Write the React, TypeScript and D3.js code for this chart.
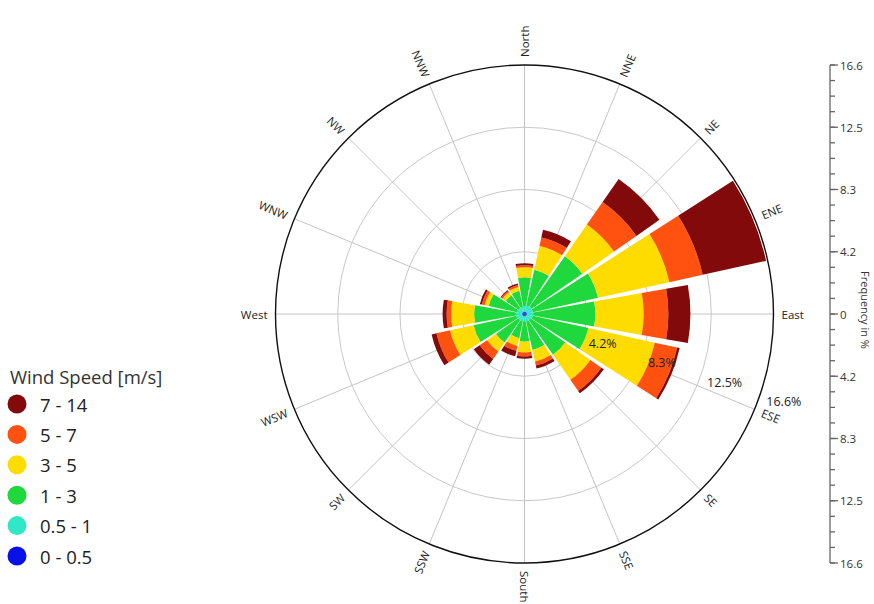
import React from "react";
import * as d3 from "d3";

const directions = ["North", "NNE", "NE", "ENE", "East", "ESE", "SE", "SSE", "South", "SSW", "SW", "WSW", "West", "WNW", "NW", "NNW"];
const directionAngles = [0, 22.5, 45, 67.5, 90, 112.5, 135, 157.5, 180, 202.5, 225, 247.5, 270, 292.5, 315, 337.5];

const speedBins = ["0 - 0.5", "0.5 - 1", "1 - 3", "3 - 5", "5 - 7", "7 - 14"];
const binColors = ["#0a10e8", "#30e8c8", "#1fd83e", "#ffdc00", "#ff5210", "#820a0a"];

// Frequency (%) per direction, per speed bin
const s0_05 = [0.15, 0.16, 0.16, 0.16, 0.16, 0.16, 0.15, 0.15, 0.15, 0.15, 0.15, 0.15, 0.16, 0.15, 0.15, 0.15];
const s05_1 = [0.38, 0.42, 0.44, 0.42, 0.42, 0.42, 0.38, 0.36, 0.34, 0.36, 0.38, 0.42, 0.42, 0.38, 0.34, 0.34];
const s1_3 = [1.92, 2.44, 4.1, 4.44, 4.14, 3.78, 2.79, 1.94, 1.36, 1.14, 1.79, 2.91, 2.78, 1.92, 1.03, 1.09];
const s3_5 = [0.67, 1.63, 2.57, 4.87, 3.22, 4.53, 2.03, 0.8, 0.71, 0.53, 0.73, 1.6, 1.53, 0.27, 0.27, 0.27];
const s5_7 = [0.13, 0.57, 1.83, 2.27, 1.65, 1.53, 0.9, 0.27, 0.27, 0.33, 0.6, 0.93, 0.3, 0.2, 0.1, 0.13];
const s7_14 = [0.13, 0.53, 1.87, 4.33, 1.47, 0.17, 0.2, 0.2, 0.15, 0.37, 0.47, 0.33, 0.27, 0.13, 0.07, 0.1];

const ringValues = [4.15, 8.3, 12.45, 16.6];
const ringLabels = ["4.2%", "8.3%", "12.5%", "16.6%"];
const axisTickValues = [-16.6, -12.45, -8.3, -4.15, 0, 4.15, 8.3, 12.45, 16.6];
const axisTickLabels = ["16.6", "12.5", "8.3", "4.2", "0", "4.2", "8.3", "12.5", "16.6"];

const series = [s0_05, s05_1, s1_3, s3_5, s5_7, s7_14];

const W = 874;
const H = 604;
const cx = 524.5;
const cy = 314;
const R = 249;
const maxVal = 16.6;
const halfWedge = (10.1 * Math.PI) / 180;
const halfFull = (11.25 * Math.PI) / 180;
const labelAngle = 108;
const font = "'Open Sans', 'DejaVu Sans', sans-serif";

export default function App() {
  const r = d3.scaleLinear().domain([0, maxVal]).range([0, R]);
  const yAxis = d3.scaleLinear().domain([-maxVal, maxVal]).range([cy + R, cy - R]);
  const arc = d3.arc<any>();

  const wedges: any[] = [];
  directions.forEach((d, i) => {
    let cum = 0;
    const a = (directionAngles[i] * Math.PI) / 180;
    series.forEach((s, k) => {
      const inner = cum;
      cum += s[i];
      const hw = k < 2 ? halfFull : halfWedge;
      wedges.push({
        key: `${d}-${k}`,
        path: arc({
          innerRadius: r(inner),
          outerRadius: r(cum),
          startAngle: a - hw,
          endAngle: a + hw,
        }),
        color: binColors[k],
      });
    });
  });

  const minorTicks = d3.range(-16, 17).map((k) => (k * maxVal) / 16);

  return (
    <svg width={W} height={H} style={{ position: "absolute", left: 0, top: 0, background: "#fff" }}>
      <rect x={0} y={0} width={W} height={H} fill="#fff" />
      {/* grid rings */}
      {ringValues.slice(0, 3).map((v) => (
        <circle key={v} cx={cx} cy={cy} r={r(v)} fill="none" stroke="#c8c8c8" strokeWidth={1} />
      ))}
      {/* spokes */}
      {directionAngles.map((deg) => {
        const a = (deg * Math.PI) / 180;
        return (
          <line
            key={deg}
            x1={cx}
            y1={cy}
            x2={cx + R * Math.sin(a)}
            y2={cy - R * Math.cos(a)}
            stroke="#c4c4c4"
            strokeWidth={1}
          />
        );
      })}
      {/* wedges */}
      <g transform={`translate(${cx},${cy})`}>
        {wedges.map((w) => (
          <path key={w.key} d={w.path} fill={w.color} />
        ))}
      </g>
      {/* outer circle */}
      <circle cx={cx} cy={cy} r={R} fill="none" stroke="#111" strokeWidth={1.4} />
      {/* ring labels */}
      {ringValues.map((v, i) => {
        const a = (labelAngle * Math.PI) / 180;
        const x = cx + r(v) * Math.sin(a) + 5;
        const y = cy - r(v) * Math.cos(a) + 15;
        return (
          <text key={v} x={x} y={y} fontSize={12.5} fontFamily={font} fill="#222">
            {ringLabels[i]}
          </text>
        );
      })}
      {/* direction labels */}
      {directions.map((d, i) => {
        const deg = directionAngles[i];
        const a = (deg * Math.PI) / 180;
        const rr = R + 8;
        const x = cx + rr * Math.sin(a);
        const y = cy - rr * Math.cos(a);
        const east = deg <= 180;
        const rot = east ? deg - 90 : deg - 270;
        return (
          <text
            key={d}
            x={x}
            y={y}
            fontSize={11.5}
            fontFamily={font}
            fill="#222"
            textAnchor={east ? "start" : "end"}
            dominantBaseline="central"
            transform={`rotate(${rot},${x},${y})`}
          >
            {d}
          </text>
        );
      })}
      {/* right axis */}
      <g>
        <line x1={830} x2={830} y1={yAxis(maxVal)} y2={yAxis(-maxVal)} stroke="#666" strokeWidth={1.3} />
        {minorTicks.map((v, i) => (
          <line key={i} x1={830} x2={835} y1={yAxis(v)} y2={yAxis(v)} stroke="#666" strokeWidth={1.3} />
        ))}
        {axisTickValues.map((v, i) => (
          <g key={i}>
            <line x1={830} x2={838} y1={yAxis(v)} y2={yAxis(v)} stroke="#666" strokeWidth={1.3} />
            <text x={840} y={yAxis(v)} fontSize={11.5} fontFamily={font} fill="#333" dominantBaseline="central">
              {axisTickLabels[i]}
            </text>
          </g>
        ))}
        <text
          x={865}
          y={cy - 4}
          fontSize={11}
          fontFamily={font}
          fill="#333"
          textAnchor="middle"
          dominantBaseline="central"
          transform={`rotate(90,865,${cy - 4})`}
        >
          Frequency in %
        </text>
      </g>
      {/* legend */}
      <g>
        <text x={10} y={384} fontSize={18.5} fontFamily={font} fill="#333">
          Wind Speed [m/s]
        </text>
        {speedBins
          .map((b, k) => ({ b, k }))
          .reverse()
          .map(({ b, k }, j) => {
            const y = 404 + j * 30.4;
            return (
              <g key={b}>
                <circle cx={17} cy={y} r={9.5} fill={binColors[k]} />
                <text x={40} y={y} fontSize={18.5} fontFamily={font} fill="#222" dominantBaseline="central">
                  {b}
                </text>
              </g>
            );
          })}
      </g>
    </svg>
  );
}
